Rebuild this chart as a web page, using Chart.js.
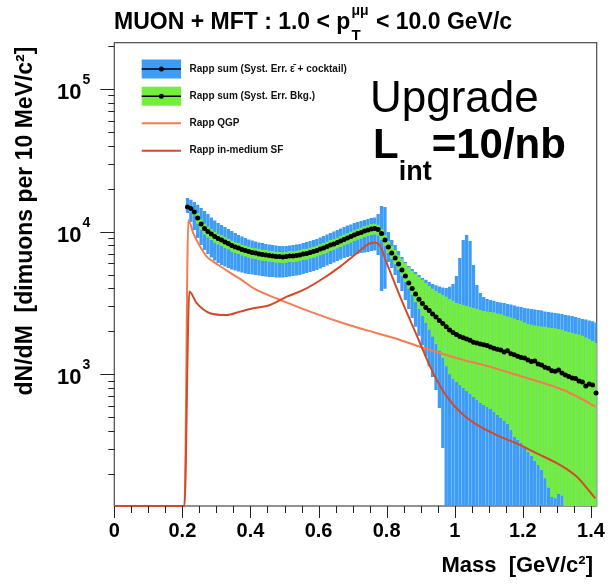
<!DOCTYPE html>
<html>
<head>
<meta charset="utf-8">
<style>
  html, body { margin: 0; padding: 0; background: #ffffff; }
  canvas { display: block; }
</style>
<script src="https://cdn.jsdelivr.net/npm/chart.js@4.4.1/dist/chart.umd.min.js"></script>
</head>
<body>
<canvas id="massChart" width="616" height="584"></canvas>
<script>
// Dimuon invariant-mass bins (GeV/c^2), 10 MeV wide
const massBins = [
  0.215, 0.225, 0.235, 0.245, 0.255, 0.265, 0.275, 0.285, 0.295, 0.305,
  0.315, 0.325, 0.335, 0.345, 0.355, 0.365, 0.375, 0.385, 0.395, 0.405,
  0.415, 0.425, 0.435, 0.445, 0.455, 0.465, 0.475, 0.485, 0.495, 0.505,
  0.515, 0.525, 0.535, 0.545, 0.555, 0.565, 0.575, 0.585, 0.595, 0.605,
  0.615, 0.625, 0.635, 0.645, 0.655, 0.665, 0.675, 0.685, 0.695, 0.705,
  0.715, 0.725, 0.735, 0.745, 0.755, 0.765, 0.775, 0.785, 0.795, 0.805,
  0.815, 0.825, 0.835, 0.845, 0.855, 0.865, 0.875, 0.885, 0.895, 0.905,
  0.915, 0.925, 0.935, 0.945, 0.955, 0.965, 0.975, 0.985, 0.995, 1.005,
  1.015, 1.025, 1.035, 1.045, 1.055, 1.065, 1.075, 1.085, 1.095, 1.105,
  1.115, 1.125, 1.135, 1.145, 1.155, 1.165, 1.175, 1.185, 1.195, 1.205,
  1.215, 1.225, 1.235, 1.245, 1.255, 1.265, 1.275, 1.285, 1.295, 1.305,
  1.315, 1.325, 1.335, 1.345, 1.355, 1.365, 1.375, 1.385, 1.395, 1.405, 1.415
];

// Rapp sum: dimuons per 10 MeV/c^2
const rappSum = [
  14900, 14550, 13740, 12480, 11320, 10530, 10030, 9640, 9250, 8960,
  8750, 8470, 8270, 8000, 7810, 7690, 7500, 7380, 7260, 7150,
  7090, 6980, 6920, 6870, 6810, 6760, 6700, 6680, 6650, 6700,
  6760, 6750, 6810, 6870, 6980, 7030, 7150, 7260, 7380, 7560,
  7690, 7870, 8070, 8200, 8400, 8610, 8820, 9030, 9250, 9480,
  9710, 9870, 10110, 10280, 10450, 10530, 10360, 9710, 8750, 7810,
  7090, 6540, 5930, 5390, 4890, 4370, 4000, 3660, 3350, 3140,
  2940, 2800, 2650, 2520, 2380, 2270, 2150, 2040, 1960, 1900,
  1840, 1800, 1770, 1730, 1680, 1660, 1630, 1610, 1590, 1550,
  1520, 1500, 1480, 1430, 1460, 1390, 1370, 1340, 1310, 1300,
  1260, 1230, 1240, 1180, 1160, 1120, 1100, 1060, 1050, 1070,
  1020, 989, 965, 942, 934, 898, 883, 828, 855, 841, 740
];

// Systematic band: efficiency + cocktail (upper / lower edge)
const effCocktailHigh = [
  17200, 16700, 16150, 15400, 14660, 13970, 13310, 12580, 11980, 11510,
  11140, 10790, 10450, 10110, 9790, 9480, 9250, 9030, 8820, 8670,
  8530, 8400, 8330, 8200, 8130, 8070, 8000, 7940, 7940, 7940,
  8000, 8070, 8130, 8200, 8330, 8470, 8610, 8750, 8890, 9110,
  9330, 9560, 9790, 10030, 10280, 10530, 10790, 11050, 11230, 11510,
  11700, 11890, 12080, 12280, 12480, 12580, 13310, 15140, 14900, 9950,
  8750, 8070, 7320, 6650, 6130, 5750, 5470, 5210, 4970, 4730,
  4590, 4440, 4300, 4200, 4130, 4060, 4030, 4100, 4300, 4890,
  6540, 8750, 9480, 8610, 5840, 4230, 3720, 3480, 3370, 3320,
  3270, 3210, 3190, 3160, 3110, 3090, 3040, 2990, 2960, 2920,
  2890, 2870, 2840, 2820, 2800, 2760, 2730, 2710, 2690, 2670,
  2650, 2600, 2580, 2560, 2520, 2480, 2440, 2420, 2380, 2350, 2310
];
const effCocktailLow = [
  13520, 11700, 10280, 9030, 8070, 7440, 6970, 6590, 6280, 6030,
  5840, 5700, 5560, 5430, 5340, 5260, 5170, 5090, 5050, 5010,
  4970, 4930, 4890, 4850, 4810, 4810, 4770, 4770, 4770, 4810,
  4850, 4890, 4930, 4970, 5050, 5130, 5210, 5300, 5390, 5520,
  5660, 5790, 5930, 6080, 6230, 6380, 6540, 6650, 6750, 6860,
  6970, 7090, 7150, 7200, 7320, 7380, 6860, 3840, 3970, 6130,
  5560, 4970, 4370, 3840, 3320, 2870, 2480, 2150, 1860, 1600,
  1340, 1140, 957, 776, 580, 304, 50, 50, 50, 50,
  50, 50, 50, 50, 50, 50, 50, 50, 50, 50,
  50, 50, 50, 50, 50, 50, 50, 50, 50, 50,
  50, 50, 50, 50, 50, 50, 50, 50, 50, 50,
  50, 50, 50, 50, 50, 50, 50, 50, 50, 50, 50
];

// Systematic band: background subtraction (upper / lower edge)
const bkgHigh = [
  15500, 15130, 14290, 13480, 12230, 11370, 10830, 10410, 9990, 9680,
  9450, 9150, 8930, 8640, 8430, 8310, 8100, 7970, 7840, 7720,
  7660, 7540, 7470, 7420, 7350, 7300, 7240, 7210, 7180, 7240,
  7300, 7290, 7350, 7420, 7540, 7590, 7720, 7840, 7970, 8160,
  8310, 8500, 8720, 8860, 9070, 9300, 9530, 9750, 9990, 10240,
  10490, 10660, 10920, 11100, 11290, 11370, 11190, 10450, 9480, 8610,
  7940, 7440, 6860, 6440, 6030, 5660, 5300, 5050, 4810, 4590,
  4370, 4160, 3970, 3840, 3720, 3600, 3490, 3370, 3270, 3160,
  3110, 3060, 3010, 2960, 2920, 2870, 2820, 2780, 2760, 2730,
  2710, 2670, 2630, 2580, 2540, 2500, 2460, 2400, 2370, 2310,
  2250, 2220, 2200, 2180, 2160, 2150, 2130, 2110, 2100, 2080,
  2050, 2010, 1980, 1950, 1920, 1890, 1860, 1810, 1770, 1710, 1660
];
const bkgLow = [
  14150, 13820, 13050, 11290, 10250, 9530, 9080, 8720, 8370, 8110,
  7920, 7670, 7480, 7240, 7070, 6960, 6790, 6680, 6570, 6470,
  6420, 6320, 6260, 6220, 6160, 6120, 6060, 6050, 6020, 6060,
  6120, 6110, 6160, 6220, 6320, 6360, 6470, 6570, 6680, 6840,
  6960, 7120, 7300, 7420, 7600, 7790, 7980, 8170, 8370, 8580,
  8790, 8930, 9150, 9300, 9460, 9530, 9380, 8750, 7940, 7090,
  6440, 5930, 5390, 4890, 4440, 3970, 3600, 3210, 2870, 2560,
  2290, 2050, 1830, 1630, 1460, 1300, 1140, 1000, 927, 883,
  841, 801, 764, 727, 693, 660, 629, 609, 590, 571,
  544, 518, 494, 471, 448, 407, 363, 346, 330, 309,
  285, 267, 247, 231, 213, 187, 160, 138, 135, 145,
  141, 50, 50, 50, 50, 50, 50, 50, 50, 50, 50
];

// Rapp QGP contribution
const qgpMass  = [0, 0.206, 0.2175, 0.232, 0.252, 0.2715, 0.291, 0.320, 0.350, 0.374, 0.4085,
                  0.487, 0.575, 0.673, 0.771, 0.8395, 0.898, 1.026, 1.104, 1.163, 1.222, 1.319, 1.369, 1.413];
const qgpYield = [119.3, 119.3, 12080, 9745, 7850, 6680, 6160, 5540, 4970, 4590, 4010,
                  3320, 2750, 2280, 1940, 1740, 1560, 1260, 1130, 1020, 927, 776, 679, 593];

// Rapp in-medium spectral function
const sfMass  = [0, 0.206, 0.2204, 0.2421, 0.2812, 0.3303, 0.3694, 0.4085, 0.4575, 0.5066, 0.5554,
                 0.6142, 0.6632, 0.7123, 0.7514, 0.7661, 0.7808, 0.8005, 0.8199, 0.8395, 0.8689,
                 0.8983, 0.9277, 0.9474, 0.9768, 1.0256, 1.0746, 1.1237, 1.1922, 1.2413, 1.3097,
                 1.3588, 1.3882, 1.4126];
const sfYield = [119.3, 119.3, 3800, 3150, 2680, 2600, 2750, 2900, 3060, 3500, 3900,
                 4710, 5680, 7060, 8290, 8370, 7940, 6000, 4590, 3500, 2400,
                 1650, 1130, 912, 697, 518, 429, 375, 319, 279, 231,
                 191, 159, 135];

// Axis ticks and labels
const xTickValues = [0, 0.2, 0.4, 0.6, 0.8, 1, 1.2, 1.4];
const xTickLabels = ['0', '0.2', '0.4', '0.6', '0.8', '1', '1.2', '1.4'];
const yDecadeValues = [1e3, 1e4, 1e5];
const yDecadeExponents = ['3', '4', '5'];

const Y_MIN = 119.3, Y_MAX = 2.11e5;
const X_MIN = 0, X_MAX = 1.417;

const BLUE = '#3d9cf6';
const GREEN = '#74ee3c';
const QGP_COLOR = '#f37c52';
const SF_COLOR = '#d24a2a';
const FONT = '"Liberation Sans", Arial, Helvetica, sans-serif';

const band = (lo, hi) => massBins.map((m, i) => ({ x: m, y: [lo[i], hi[i]] }));
const curve = (xs, ys) => xs.map((m, i) => ({ x: m, y: ys[i] }));

// Axes frame drawn underneath the data
const framePlugin = {
  id: 'frame',
  beforeDatasetsDraw(chart) {
    const { ctx, chartArea: a } = chart;
    ctx.save();
    ctx.strokeStyle = '#4a4a4a';
    ctx.lineWidth = 1.2;
    ctx.strokeRect(a.left, a.top, a.right - a.left, a.bottom - a.top);
    ctx.restore();
  }
};

// Ticks, labels, titles, legend and annotation text
const decorPlugin = {
  id: 'decor',
  afterDraw(chart) {
    const { ctx, chartArea: a, scales } = chart;
    const xs = scales.x, ys = scales.y;
    ctx.save();

    // tick marks
    ctx.strokeStyle = '#222';
    ctx.lineWidth = 1;
    ctx.beginPath();
    for (let e = 2; e <= 5; e++) {
      for (let m = 1; m <= 9; m++) {
        const v = m * Math.pow(10, e);
        if (v < Y_MIN || v > Y_MAX) continue;
        const py = Math.round(ys.getPixelForValue(v)) + 0.5;
        const len = m === 1 ? 14 : 6;
        ctx.moveTo(a.left - len, py);
        ctx.lineTo(a.left, py);
      }
    }
    for (let i = 0; i <= 28; i++) {
      const v = i * 0.05;
      const px = Math.round(xs.getPixelForValue(v)) + 0.5;
      const len = i % 4 === 0 ? 12 : 7;
      ctx.moveTo(px, a.bottom);
      ctx.lineTo(px, a.bottom + len);
    }
    ctx.stroke();

    ctx.fillStyle = '#000';
    ctx.textBaseline = 'alphabetic';

    // x tick labels
    ctx.font = 'bold 20px ' + FONT;
    ctx.textAlign = 'center';
    xTickValues.forEach((v, i) => {
      ctx.fillText(xTickLabels[i], xs.getPixelForValue(v), 537);
    });

    // y tick labels (powers of ten)
    yDecadeValues.forEach((v, i) => {
      const py = ys.getPixelForValue(v);
      ctx.font = 'bold 22px ' + FONT;
      ctx.textAlign = 'right';
      ctx.fillText('10', 81.5, py + 10);
      ctx.font = 'bold 14px ' + FONT;
      ctx.textAlign = 'left';
      ctx.fillText(yDecadeExponents[i], 82.5, py - 5);
    });

    // axis titles
    ctx.font = 'bold 22px ' + FONT;
    ctx.textAlign = 'right';
    ctx.fillText('Mass  [GeV/c\u00b2]', 593, 572);

    ctx.save();
    ctx.translate(32, 221);
    ctx.rotate(-Math.PI / 2);
    ctx.textAlign = 'center';
    ctx.font = 'bold 23px ' + FONT;
    ctx.fillText('dN/dM  [dimuons per 10 MeV/c\u00b2]', 0, 0);
    ctx.restore();

    // chart title with p_T^{mu mu}
    ctx.textAlign = 'left';
    let tx = 114;
    ctx.font = 'bold 23px ' + FONT;
    const t1 = 'MUON + MFT : 1.0 < p';
    ctx.fillText(t1, tx, 29);
    tx += ctx.measureText(t1).width;
    ctx.font = 'bold 15px ' + FONT;
    ctx.fillText('T', tx + 1, 40);
    const wT = ctx.measureText('T').width;
    ctx.font = 'bold 14px ' + FONT;
    ctx.fillText('\u03bc\u03bc', tx + 1, 15);
    const wMu = ctx.measureText('\u03bc\u03bc').width;
    tx += Math.max(wT, wMu) + 2;
    ctx.font = 'bold 23px ' + FONT;
    ctx.fillText(' < 10.0 GeV/c', tx, 29);

    // legend
    const lx0 = 141.7, lx1 = 181, lw = lx1 - lx0, lxc = (lx0 + lx1) / 2;
    ctx.fillStyle = BLUE;
    ctx.fillRect(lx0, 59.5, lw, 19);
    ctx.fillStyle = GREEN;
    ctx.fillRect(lx0, 86.7, lw, 19);
    ctx.strokeStyle = '#000';
    ctx.lineWidth = 1.6;
    ctx.beginPath();
    ctx.moveTo(lx0, 69); ctx.lineTo(lx1, 69);
    ctx.moveTo(lx0, 96.2); ctx.lineTo(lx1, 96.2);
    ctx.stroke();
    ctx.fillStyle = '#000';
    ctx.beginPath(); ctx.arc(lxc, 69, 2.5, 0, Math.PI * 2); ctx.fill();
    ctx.beginPath(); ctx.arc(lxc, 96.2, 2.5, 0, Math.PI * 2); ctx.fill();
    ctx.lineWidth = 2;
    ctx.strokeStyle = QGP_COLOR;
    ctx.beginPath(); ctx.moveTo(lx0, 123.3); ctx.lineTo(lx1, 123.3); ctx.stroke();
    ctx.strokeStyle = SF_COLOR;
    ctx.beginPath(); ctx.moveTo(lx0, 150.7); ctx.lineTo(lx1, 150.7); ctx.stroke();

    ctx.fillStyle = '#111';
    ctx.font = 'bold 10px ' + FONT;
    ctx.textBaseline = 'middle';
    ctx.fillText('Rapp sum (Syst. Err. \u03b5\u0304 + cocktail)', 189.5, 69.5);
    ctx.fillText('Rapp sum (Syst. Err. Bkg.)', 189.5, 96.5);
    ctx.fillText('Rapp QGP', 189.5, 123);
    ctx.fillText('Rapp in-medium SF', 189.5, 150.5);

    // annotation
    ctx.fillStyle = '#000';
    ctx.textBaseline = 'alphabetic';
    ctx.font = '44px ' + FONT;
    ctx.fillText('Upgrade', 370, 111.7);
    let lxp = 373;
    ctx.font = 'bold 42px ' + FONT;
    ctx.fillText('L', lxp, 158.3);
    lxp += ctx.measureText('L').width;
    ctx.font = 'bold 27px ' + FONT;
    ctx.fillText('int', lxp, 180);
    lxp += ctx.measureText('int').width;
    ctx.font = 'bold 42px ' + FONT;
    ctx.fillText('=10/nb', lxp, 158.3);

    ctx.restore();
  }
};

new Chart(document.getElementById('massChart'), {
  type: 'bar',
  data: {
    datasets: [
      {
        type: 'line',
        label: 'Rapp sum',
        data: curve(massBins, rappSum),
        showLine: false,
        pointRadius: 2.5,
        pointBackgroundColor: '#000',
        pointBorderWidth: 0,
        clip: 3,
        order: 0
      },
      {
        type: 'line',
        label: 'Rapp in-medium SF',
        data: curve(sfMass, sfYield),
        borderColor: SF_COLOR,
        borderWidth: 2,
        pointRadius: 0,
        fill: false,
        cubicInterpolationMode: 'monotone',
        clip: 2,
        order: 1
      },
      {
        type: 'line',
        label: 'Rapp QGP',
        data: curve(qgpMass, qgpYield),
        borderColor: QGP_COLOR,
        borderWidth: 2,
        pointRadius: 0,
        fill: false,
        cubicInterpolationMode: 'monotone',
        clip: 2,
        order: 2
      },
      {
        label: 'Rapp sum (Syst. Err. Bkg.)',
        data: band(bkgLow, bkgHigh),
        backgroundColor: GREEN,
        borderWidth: 0,
        barPercentage: 0.97,
        categoryPercentage: 1,
        grouped: false,
        clip: 0,
        order: 3
      },
      {
        label: 'Rapp sum (Syst. Err. eff + cocktail)',
        data: band(effCocktailLow, effCocktailHigh),
        backgroundColor: BLUE,
        borderWidth: 0,
        barPercentage: 0.97,
        categoryPercentage: 1,
        grouped: false,
        clip: 0,
        order: 4
      }
    ]
  },
  options: {
    responsive: false,
    animation: false,
    devicePixelRatio: 1,
    layout: { padding: { left: 114.3, top: 42.7, right: 19.3, bottom: 78 } },
    plugins: {
      legend: { display: false },
      tooltip: { enabled: false },
      title: { display: false }
    },
    scales: {
      x: { type: 'linear', min: X_MIN, max: X_MAX, offset: false, bounds: 'data', display: false },
      y: { type: 'logarithmic', min: Y_MIN, max: Y_MAX, bounds: 'data', display: false }
    }
  },
  plugins: [framePlugin, decorPlugin]
});
</script>
</body>
</html>
